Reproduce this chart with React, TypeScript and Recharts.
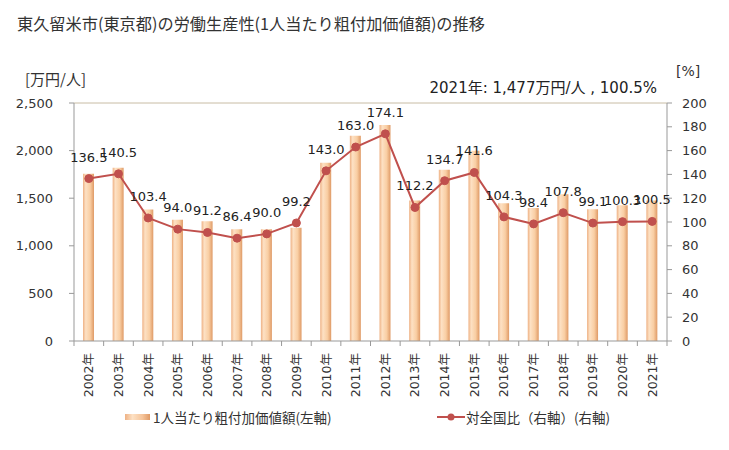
import React from 'react';
import { ComposedChart, Bar, Line, XAxis, YAxis, ReferenceLine, LabelList } from 'recharts';

const years = ['2002年', '2003年', '2004年', '2005年', '2006年', '2007年', '2008年', '2009年', '2010年', '2011年',
  '2012年', '2013年', '2014年', '2015年', '2016年', '2017年', '2018年', '2019年', '2020年', '2021年'];
const valuePerPerson = [1757, 1820, 1381, 1273, 1259, 1175, 1175, 1189, 1872, 2155,
  2270, 1475, 1799, 1998, 1447, 1398, 1541, 1384, 1426, 1477];
const ratioToNation = [136.5, 140.5, 103.4, 94.0, 91.2, 86.4, 90.0, 99.2, 143.0, 163.0,
  174.1, 112.2, 134.7, 141.6, 104.3, 98.4, 107.8, 99.1, 100.3, 100.5];
const leftTicks = [0, 500, 1000, 1500, 2000, 2500];
const rightTicks = [0, 20, 40, 60, 80, 100, 120, 140, 160, 180, 200];

const chartData = years.map((year, i) => ({
  year,
  value: valuePerPerson[i],
  ratio: ratioToNation[i],
}));

const FONT = '"DejaVu Sans", "Noto Sans CJK JP", sans-serif';
const JP_FONT = '"Noto Sans CJK JP", sans-serif';
const AXIS_COLOR = '#999999';
const LINE_COLOR = '#c0504d';
const BAND = 593 / years.length;

const YearTick = ({ x, y, payload, index }: any) => (
  <g>
    <line x1={x - BAND / 2} y1={y - 8} x2={x - BAND / 2} y2={y - 3} stroke={AXIS_COLOR} />
    {index === years.length - 1 && (
      <line x1={x + BAND / 2} y1={y - 8} x2={x + BAND / 2} y2={y - 3} stroke={AXIS_COLOR} />
    )}
    <text
      x={0}
      y={0}
      transform={`translate(${x + 4.5}, ${y + 4}) rotate(-90)`}
      textAnchor="end"
      fontSize={12.5}
      fill="#333"
      fontFamily={FONT}
    >
      {payload.value}
    </text>
  </g>
);

const RatioLabel = ({ x, y, value }: any) => (
  <text x={x} y={y - 17} textAnchor="middle" fontSize={13} fill="#222" fontFamily={FONT}>
    {Number(value).toFixed(1)}
  </text>
);

const App: React.FC = () => {
  return (
    <div style={{ position: 'absolute', left: 0, top: 0, width: 729, height: 450, background: '#fff', fontFamily: JP_FONT }}>
      <div style={{ position: 'absolute', left: 17, top: 11, fontSize: 16.2, color: '#333', whiteSpace: 'nowrap' }}>
        東久留米市(東京都)の労働生産性(1人当たり粗付加価値額)の推移
      </div>
      <div style={{ position: 'absolute', left: 25, top: 68, fontSize: 15, color: '#333' }}>[万円/人]</div>
      <div style={{ position: 'absolute', left: 676, top: 63, fontSize: 14, color: '#333', fontFamily: FONT }}>[%]</div>
      <div style={{ position: 'absolute', right: 72, top: 76, fontSize: 15, color: '#222', whiteSpace: 'nowrap', fontFamily: FONT }}>
        2021年: 1,477万円/人 , 100.5%
      </div>

      <ComposedChart
        width={729}
        height={450}
        data={chartData}
        margin={{ top: 103, right: 0, left: 0, bottom: 59 }}
        barCategoryGap={0}
      >
        <defs>
          <linearGradient id="barFill" x1="0" y1="0" x2="1" y2="0">
            <stop offset="0%" stopColor="#eeb184" />
            <stop offset="25%" stopColor="#fde1c4" />
            <stop offset="65%" stopColor="#f9cea3" />
            <stop offset="100%" stopColor="#df9a66" />
          </linearGradient>
        </defs>
        <XAxis
          dataKey="year"
          height={50}
          interval={0}
          tick={<YearTick />}
          tickLine={false}
          axisLine={{ stroke: AXIS_COLOR }}
        />
        <YAxis
          yAxisId="left"
          width={74}
          domain={[0, 2500]}
          ticks={leftTicks}
          tickFormatter={(v: number) => v.toLocaleString('en-US')}
          tick={{ fontSize: 13, fill: '#333', fontFamily: FONT }}
          tickLine={{ stroke: AXIS_COLOR }}
          tickSize={5}
          tickMargin={16}
          axisLine={{ stroke: AXIS_COLOR }}
        />
        <YAxis
          yAxisId="right"
          orientation="right"
          width={62}
          domain={[0, 200]}
          ticks={rightTicks}
          tick={{ fontSize: 13, fill: '#333', fontFamily: FONT, textAnchor: 'start' }}
          tickLine={{ stroke: AXIS_COLOR }}
          tickSize={5}
          tickMargin={10}
          axisLine={{ stroke: AXIS_COLOR }}
        />
        <ReferenceLine yAxisId="left" y={2500} stroke="#c8bca4" />
        <Bar yAxisId="left" dataKey="value" fill="url(#barFill)" barSize={11} isAnimationActive={false} />
        <Line
          yAxisId="right"
          dataKey="ratio"
          stroke={LINE_COLOR}
          strokeWidth={2}
          dot={{ r: 4, fill: LINE_COLOR, stroke: LINE_COLOR, strokeWidth: 1 }}
          isAnimationActive={false}
        >
          <LabelList dataKey="ratio" content={<RatioLabel />} />
        </Line>
      </ComposedChart>

      <div style={{ position: 'absolute', left: 125, top: 407, display: 'flex', alignItems: 'center', fontSize: 13.5, color: '#333', whiteSpace: 'nowrap' }}>
        <span style={{ display: 'inline-block', width: 25, height: 6, marginRight: 3, background: 'linear-gradient(to right, #eeb184, #fde1c4 30%, #f5c49a 70%, #df9a66)' }} />
        1人当たり粗付加価値額(左軸)
      </div>
      <div style={{ position: 'absolute', left: 437, top: 407, display: 'flex', alignItems: 'center', fontSize: 13.5, color: '#333', whiteSpace: 'nowrap' }}>
        <svg width={29} height={10} style={{ marginRight: 0 }}>
          <line x1={0} y1={5} x2={28} y2={5} stroke={LINE_COLOR} strokeWidth={2} />
          <circle cx={14} cy={5} r={3.5} fill={LINE_COLOR} />
        </svg>
        対全国比（右軸）(右軸)
      </div>
    </div>
  );
};

export default App;
